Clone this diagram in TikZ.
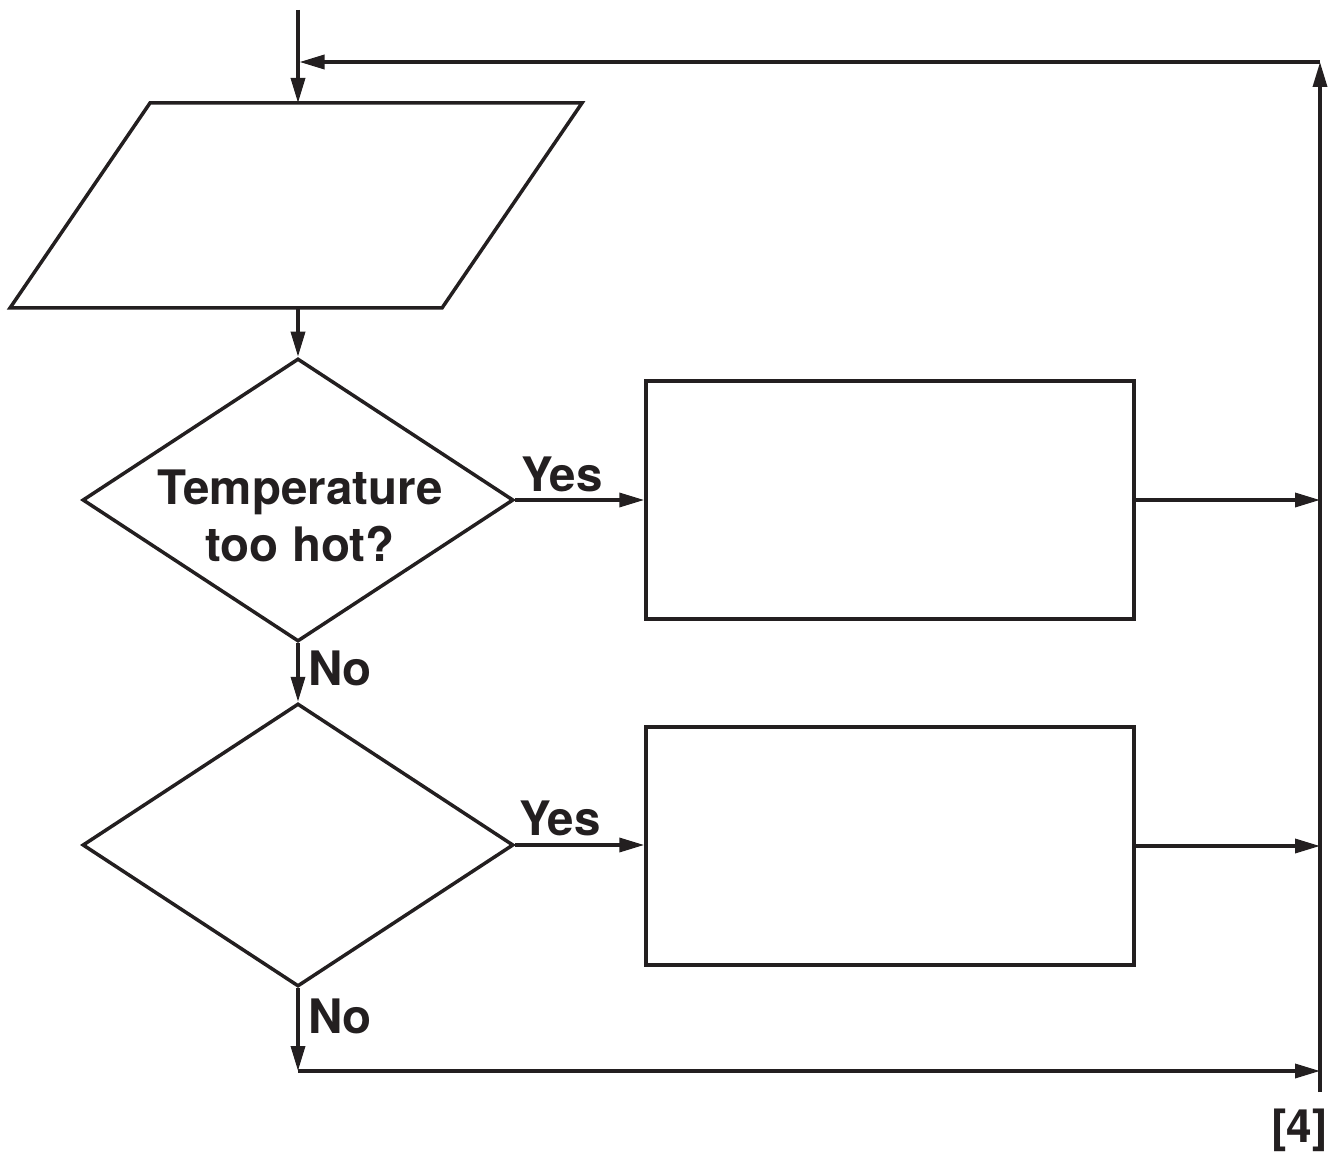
\documentclass[tikz,border=0pt]{standalone}
\usepackage{fontspec}
\setmainfont{TeX Gyre Heros}
\usetikzlibrary{arrows.meta,shapes.geometric}
\definecolor{ink}{HTML}{231F20}
\tikzset{
  line/.style={draw=ink, line width=3.5pt},
  arr/.style={line, -{Triangle[length=25pt,width=14pt]}},
  dia/.style={line, diamond, inner sep=0pt, minimum width=431pt, minimum height=283pt},
  box/.style={line, rectangle, inner sep=0pt, minimum width=488pt, minimum height=238pt},
  lab/.style={text=ink, inner sep=0pt, font=\fontsize{47.5}{57}\selectfont\bfseries},
}
\begin{document}
\begin{tikzpicture}[x=1pt,y=-1pt]
\useasboundingbox (0,0) rectangle (1335,1155);
% input/output parallelogram
\coordinate (p1) at (150,103);
\coordinate (p2) at (582,103);
\coordinate (p3) at (442,308);
\coordinate (p4) at (10,308);
\draw[line, line join=miter] (p1) -- (p2) -- (p3) -- (p4) -- cycle;
\coordinate (pin) at (298,103);
\coordinate (pout) at (298,308);
\coordinate (start) at (298,10);
% decisions
\node[dia] (d1) at (298,500) {};
\node[lab, align=center] (t1) at (300,516) {Temperature\\too hot?};
\node[dia] (d2) at (298,845) {};
% process boxes
\node[box] (r1) at (890,500) {};
\node[box] (r2) at (890,846) {};
% rail coordinates
\coordinate (rail1) at (1320,500);
\coordinate (rail2) at (1320,846);
\coordinate (railb) at (1320,1071);
\coordinate (railend) at (1320,1092);
\coordinate (railtop) at (1320,62);
\coordinate (loopend) at (299.5,62);
\coordinate (bend) at (298,1071);
% connectors
\draw[arr] (start) -- (pin);
\draw[arr] (pout) -- (d1.north);
\draw[arr] (d1.east) -- (r1.west);
\draw[arr] (r1.east) -- (rail1);
\draw[arr] (d1.south) -- (d2.north);
\draw[arr] (d2.east) -- (r2.west |- d2.east);
\draw[arr] (r2.east) -- (rail2);
\draw[arr] (d2.south) -- (bend);
\draw[arr] (bend) -- (railb);
\draw[arr] (railend) -- (railtop);
\draw[arr] (railtop) -- (loopend);
% labels
\node[lab, anchor=base] (y1) at (562,491) {Yes};
\node[lab, anchor=base] (n1) at (340,685) {No};
\node[lab, anchor=base] (y2) at (560,835) {Yes};
\node[lab, anchor=base] (n2) at (340,1033) {No};
\node[lab, anchor=base east, font=\fontsize{46}{52}\selectfont\bfseries] (mk) at (1328,1142) {[4]};
\end{tikzpicture}
\end{document}
